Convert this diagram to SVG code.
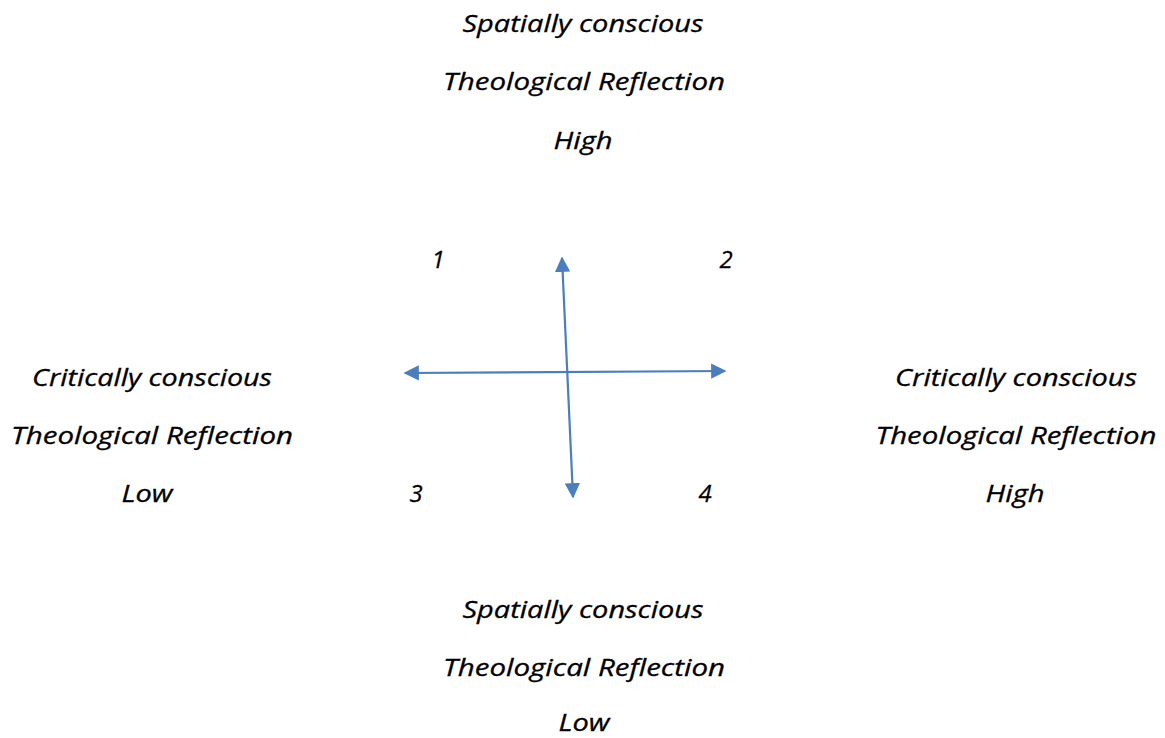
<svg xmlns="http://www.w3.org/2000/svg" width="1165" height="738" viewBox="0 0 1165 738">
<defs>
<style>
text{font-family:"Open Sans","Noto Sans","Liberation Sans",sans-serif;font-style:italic;font-weight:400;font-size:24px;fill:#000;stroke:#000;stroke-width:0.3;text-anchor:middle}
.ax{stroke:#4a7ebf;stroke-width:2.2;fill:none;marker-start:url(#ah);marker-end:url(#ah)}
</style>
<marker id="ah" viewBox="0 0 10 10" refX="9" refY="5" markerWidth="7" markerHeight="7" markerUnits="strokeWidth" orient="auto-start-reverse">
<path d="M0,0 L10,5 L0,10 z" fill="#4a7ebf"/>
</marker>
</defs>
<rect width="1165" height="738" fill="#fff"/>
<g id="connectors">
<line class="ax" x1="405" y1="373" x2="725" y2="371"/>
<line class="ax" x1="562" y1="258" x2="573" y2="497"/>
</g>
<g id="top">
<text x="583" y="32" textLength="241" lengthAdjust="spacingAndGlyphs">Spatially conscious</text>
<text x="584" y="90" textLength="282" lengthAdjust="spacingAndGlyphs">Theological Reflection</text>
<text x="583" y="149" textLength="59" lengthAdjust="spacingAndGlyphs">High</text>
</g>
<g id="bottom">
<text x="583" y="618" textLength="241" lengthAdjust="spacingAndGlyphs">Spatially conscious</text>
<text x="584" y="676" textLength="282" lengthAdjust="spacingAndGlyphs">Theological Reflection</text>
<text x="584" y="731" textLength="51" lengthAdjust="spacingAndGlyphs">Low</text>
</g>
<g id="left">
<text x="152" y="386" textLength="240" lengthAdjust="spacingAndGlyphs">Critically conscious</text>
<text x="152" y="444" textLength="282" lengthAdjust="spacingAndGlyphs">Theological Reflection</text>
<text x="147" y="502" textLength="51" lengthAdjust="spacingAndGlyphs">Low</text>
</g>
<g id="right">
<text x="1016" y="386" textLength="242" lengthAdjust="spacingAndGlyphs">Critically conscious</text>
<text x="1016" y="444" textLength="281" lengthAdjust="spacingAndGlyphs">Theological Reflection</text>
<text x="1015" y="502" textLength="59" lengthAdjust="spacingAndGlyphs">High</text>
</g>
<g id="q1"><text x="438" y="268">1</text></g>
<g id="q2"><text x="726" y="268">2</text></g>
<g id="q3"><text x="416" y="502">3</text></g>
<g id="q4"><text x="705" y="502">4</text></g>
</svg>
